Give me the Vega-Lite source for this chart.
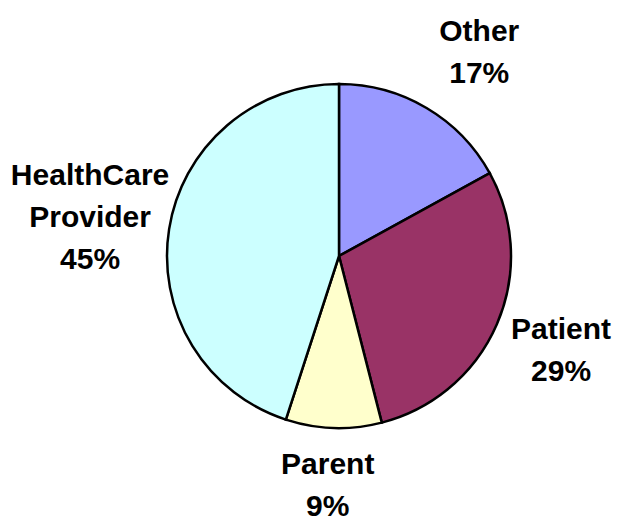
{
  "$schema": "https://vega.github.io/schema/vega-lite/v6.json",
  "width": 344,
  "height": 344,
  "autosize": {"type": "none"},
  "padding": {"left": 167, "top": 84, "right": 109, "bottom": 92},
  "background": "white",
  "config": {
    "view": {"stroke": null},
    "text": {"font": "Liberation Sans", "fontWeight": "bold", "fontSize": 30, "lineHeight": 42, "lineBreak": "\n", "align": "center", "baseline": "middle", "color": "black"}
  },
  "data": {
    "values": [
      {"category": "Other", "value": 17, "order": 1, "label": "Other\n17%"},
      {"category": "Patient", "value": 29, "order": 2, "label": "Patient\n29%"},
      {"category": "Parent", "value": 9, "order": 3, "label": "Parent\n9%"},
      {"category": "HealthCare Provider", "value": 45, "order": 4, "label": "HealthCare\nProvider\n45%"}
    ]
  },
  "encoding": {
    "theta": {"field": "value", "type": "quantitative", "stack": true},
    "order": {"field": "order", "type": "quantitative"}
  },
  "layer": [
    {
      "mark": {"type": "arc", "outerRadius": 172, "stroke": "black", "strokeWidth": 2.5},
      "encoding": {
        "color": {
          "field": "category",
          "type": "nominal",
          "scale": {
            "domain": ["Other", "Patient", "Parent", "HealthCare Provider"],
            "range": ["#9999FF", "#993366", "#FFFFCC", "#CCFFFF"]
          },
          "legend": null
        }
      }
    },
    {
      "mark": {"type": "text", "radius": 248, "dx": 14, "dy": -11},
      "encoding": {"text": {"condition": {"test": "datum.category === 'Other'", "field": "label"}, "value": ""}}
    },
    {
      "mark": {"type": "text", "radius": 242, "dy": -22},
      "encoding": {"text": {"condition": {"test": "datum.category === 'Patient'", "field": "label"}, "value": ""}}
    },
    {
      "mark": {"type": "text", "radius": 231, "dx": -4, "dy": -22},
      "encoding": {"text": {"condition": {"test": "datum.category === 'Parent'", "field": "label"}, "value": ""}}
    },
    {
      "mark": {"type": "text", "radius": 248, "dx": -4, "dy": -41},
      "encoding": {"text": {"condition": {"test": "datum.category === 'HealthCare Provider'", "field": "label"}, "value": ""}}
    }
  ]
}
